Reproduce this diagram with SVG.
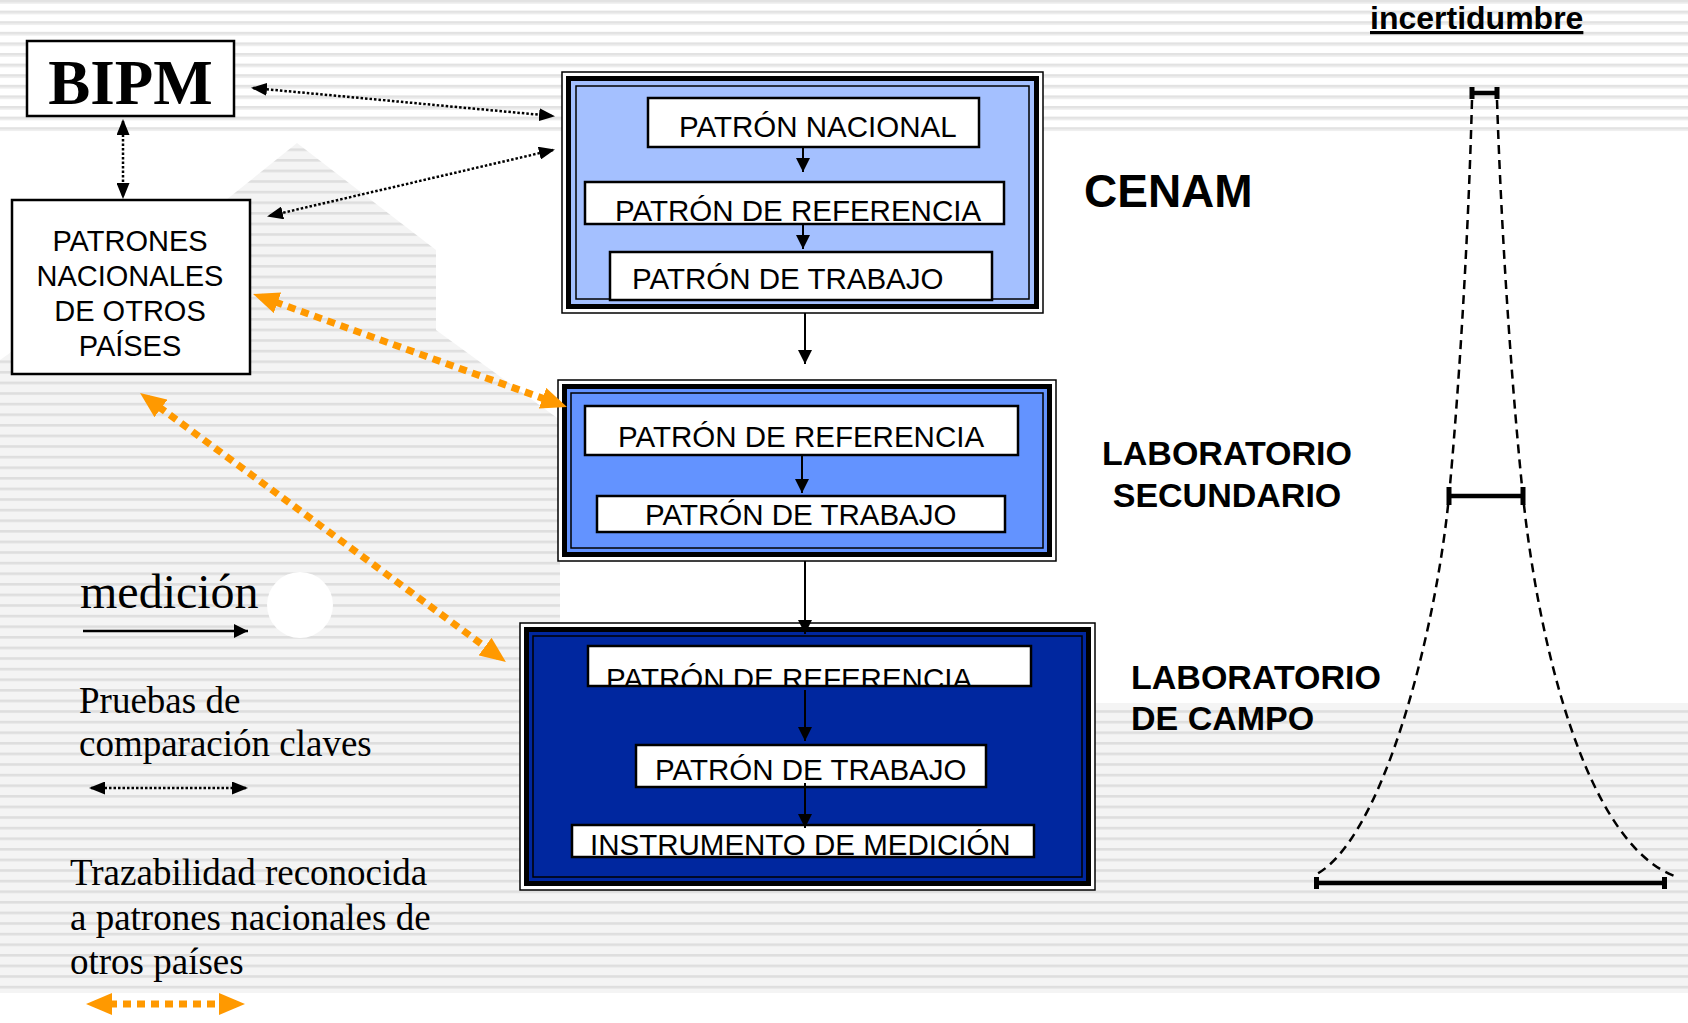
<svg xmlns="http://www.w3.org/2000/svg" width="1688" height="1023" viewBox="0 0 1688 1023">
<defs>
<pattern id="stripesTop" width="20" height="10.6" patternUnits="userSpaceOnUse"><rect width="20" height="10.6" fill="#ffffff"/><rect width="20" height="2.6" fill="#e2e2e2"/><rect y="2.6" width="20" height="1.2" fill="#efefef"/></pattern>
<pattern id="stripes" width="20" height="10.6" patternUnits="userSpaceOnUse"><rect width="20" height="10.6" fill="#f4f4f4"/><rect width="20" height="2.6" fill="#dedede"/></pattern>
<marker id="ahDot" viewBox="0 0 16 13" refX="14" refY="6.5" markerWidth="16" markerHeight="13" markerUnits="userSpaceOnUse" orient="auto-start-reverse"><path d="M0,0 L16,6.5 L0,13 z" fill="#000"/></marker>
<marker id="ahIn" viewBox="0 0 14 14" refX="14" refY="7" markerWidth="14" markerHeight="14" markerUnits="userSpaceOnUse" orient="auto"><path d="M0,0 L14,7 L0,14 z" fill="#000"/></marker>
<marker id="ahOr" viewBox="0 0 26 22" refX="17" refY="11" markerWidth="26" markerHeight="22" markerUnits="userSpaceOnUse" orient="auto-start-reverse"><path d="M0,0 L26,11 L0,22 z" fill="#FF9900"/></marker>
<clipPath id="clipCampoRef"><rect x="589" y="647" width="441" height="38"/></clipPath>
<style>
.box{fill:#fff;stroke:#000;stroke-width:2.5}
.bt{font-family:"Liberation Sans",Arial,sans-serif;font-size:29.5px;fill:#000}
.lab{font-family:"Liberation Sans",Arial,sans-serif;font-weight:bold;fill:#000}
.ser{font-family:"Liberation Serif","Times New Roman",serif;fill:#000}
.dot{fill:none;stroke:#000;stroke-width:2.5;stroke-dasharray:2.5 2}
.solid{fill:none;stroke:#000;stroke-width:2}
.orange{fill:none;stroke:#FF9900;stroke-width:7;stroke-dasharray:8 6}
.fo{fill:#fff;stroke:#000;stroke-width:1.5}
.ft{stroke:#000;stroke-width:5}
.fi{fill:none;stroke:#000;stroke-width:1.5}
.dash{fill:none;stroke:#000;stroke-width:2.5;stroke-dasharray:9 6}
.bar{stroke:#000;stroke-width:4.5}
</style>
</defs>

<g id="background">
<rect width="1688" height="1023" fill="#fff"/>
<rect x="0" y="0" width="1688" height="135" fill="url(#stripesTop)"/>
<polygon points="0,360 226,200 297,143 436,250 436,330 560,420 560,620 500,993 0,993" fill="url(#stripes)"/>
<rect x="450" y="880" width="630" height="113" fill="url(#stripes)"/>
<rect x="1080" y="703" width="608" height="290" fill="url(#stripes)"/>
<circle cx="300" cy="605" r="33" fill="#fff"/>
</g>

<g id="node-bipm">
<rect x="27" y="41" width="207" height="75" class="box"/>
<text x="130.5" y="104" class="ser" style="font-size:63px;font-weight:bold" text-anchor="middle">BIPM</text>
</g>

<g id="node-patrones">
<rect x="12" y="200" width="238" height="174" class="box"/>
<text class="bt" text-anchor="middle" style="font-size:29px"><tspan x="130" y="251">PATRONES</tspan><tspan x="130" y="286">NACIONALES</tspan><tspan x="130" y="321">DE OTROS</tspan><tspan x="130" y="356">PAÍSES</tspan></text>
</g>

<g id="node-cenam">
<rect x="562" y="72" width="481" height="241" class="fo"/>
<rect x="568.5" y="78.5" width="468" height="228" class="ft" fill="#A4C0FF"/>
<rect x="576" y="86" width="453" height="213" class="fi"/>
<g id="cenam-nacional"><rect x="648" y="98" width="331" height="49" class="box"/><text x="679" y="137" class="bt">PATRÓN NACIONAL</text></g>
<g id="cenam-referencia"><rect x="585" y="182" width="419" height="42" class="box"/><text x="615" y="221" class="bt">PATRÓN DE REFERENCIA</text></g>
<g id="cenam-trabajo"><rect x="610" y="252" width="382" height="48" class="box"/><text x="632" y="289" class="bt">PATRÓN DE TRABAJO</text></g>
</g>

<g id="node-lab-secundario">
<rect x="558" y="380" width="498" height="181" class="fo"/>
<rect x="564.5" y="386.5" width="485" height="168" class="ft" fill="#6393FF"/>
<rect x="571" y="393" width="472" height="155" class="fi"/>
<g id="sec-referencia"><rect x="585" y="406" width="433" height="49" class="box"/><text x="618" y="447" class="bt">PATRÓN DE REFERENCIA</text></g>
<g id="sec-trabajo"><rect x="597" y="496" width="408" height="36" class="box"/><text x="645" y="525" class="bt">PATRÓN DE TRABAJO</text></g>
</g>

<g id="node-lab-campo">
<rect x="520" y="623" width="575" height="267" class="fo"/>
<rect x="526.5" y="629.5" width="562" height="254" class="ft" fill="#00279F"/>
<rect x="533" y="636" width="549" height="241" class="fi"/>
<g id="campo-referencia"><rect x="588" y="646" width="443" height="40" class="box"/><text x="606" y="689" class="bt" clip-path="url(#clipCampoRef)">PATRÓN DE REFERENCIA</text></g>
<g id="campo-trabajo"><rect x="636" y="745" width="350" height="42" class="box"/><text x="655" y="780" class="bt">PATRÓN DE TRABAJO</text></g>
<g id="campo-instrumento"><rect x="572" y="825" width="462" height="32" class="box"/><text x="590" y="855" class="bt">INSTRUMENTO DE MEDICIÓN</text></g>
</g>

<g id="connectors">
<line x1="253" y1="88" x2="553" y2="116" class="dot" marker-start="url(#ahDot)" marker-end="url(#ahDot)"/>
<line x1="553" y1="150" x2="269" y2="216" class="dot" marker-start="url(#ahDot)" marker-end="url(#ahDot)"/>
<line x1="123" y1="121" x2="123" y2="197" class="dot" marker-start="url(#ahDot)" marker-end="url(#ahDot)"/>
<line x1="261.5" y1="297" x2="558.5" y2="404" class="orange" marker-start="url(#ahOr)" marker-end="url(#ahOr)"/>
<line x1="147.3" y1="398.3" x2="498.7" y2="656.7" class="orange" marker-start="url(#ahOr)" marker-end="url(#ahOr)"/>
<line x1="803" y1="147" x2="803" y2="172" class="solid" marker-end="url(#ahIn)"/>
<line x1="803" y1="224" x2="803" y2="249" class="solid" marker-end="url(#ahIn)"/>
<line x1="805" y1="313" x2="805" y2="364" class="solid" marker-end="url(#ahIn)"/>
<line x1="802" y1="455" x2="802" y2="493" class="solid" marker-end="url(#ahIn)"/>
<line x1="805" y1="561" x2="805" y2="634" class="solid" marker-end="url(#ahIn)"/>
<line x1="805" y1="690" x2="805" y2="741" class="solid" marker-end="url(#ahIn)"/>
<line x1="805" y1="783" x2="805" y2="828" class="solid" marker-end="url(#ahIn)"/>
</g>

<g id="level-labels">
<text x="1084" y="207" class="lab" style="font-size:46px">CENAM</text>
<text class="lab" text-anchor="middle" style="font-size:34px"><tspan x="1227" y="465">LABORATORIO</tspan><tspan x="1227" y="507">SECUNDARIO</tspan></text>
<text class="lab" style="font-size:34px"><tspan x="1131" y="689">LABORATORIO</tspan><tspan x="1131" y="730">DE CAMPO</tspan></text>
</g>

<g id="uncertainty">
<text x="1370" y="29" class="lab" style="font-size:32px" text-decoration="underline">incertidumbre</text>
<path d="M1472,100 C1468,250 1458,400 1449,496 C1435,640 1380,845 1313,876" class="dash"/>
<path d="M1497,100 C1502,250 1513,400 1523,496 C1538,640 1585,845 1677,877" class="dash"/>
<line x1="1472" y1="93" x2="1497" y2="93" class="bar"/>
<rect x="1469.5" y="87" width="5" height="12" fill="#000"/>
<rect x="1494.5" y="87" width="5" height="12" fill="#000"/>
<line x1="1449" y1="496" x2="1523" y2="496" class="bar"/>
<rect x="1446.5" y="487" width="5" height="18" fill="#000"/>
<rect x="1520.5" y="487" width="5" height="18" fill="#000"/>
<line x1="1316" y1="883" x2="1665" y2="883" class="bar"/>
<rect x="1314" y="877" width="5" height="12" fill="#000"/>
<rect x="1662" y="877" width="5" height="12" fill="#000"/>
</g>

<g id="legend">
<text x="80" y="608" class="ser" style="font-size:48px">medición</text>
<line x1="83" y1="631" x2="248" y2="631" stroke="#000" stroke-width="2.5" marker-end="url(#ahIn)"/>
<text class="ser" style="font-size:37px"><tspan x="79" y="713">Pruebas de</tspan><tspan x="79" y="756">comparación claves</tspan></text>
<line x1="91" y1="788" x2="246" y2="788" class="dot" marker-start="url(#ahDot)" marker-end="url(#ahDot)"/>
<text class="ser" style="font-size:37px"><tspan x="70" y="885">Trazabilidad reconocida</tspan><tspan x="70" y="930">a patrones nacionales de</tspan><tspan x="70" y="974">otros países</tspan></text>
<line x1="95" y1="1004" x2="236" y2="1004" class="orange" marker-start="url(#ahOr)" marker-end="url(#ahOr)"/>
</g>
</svg>
